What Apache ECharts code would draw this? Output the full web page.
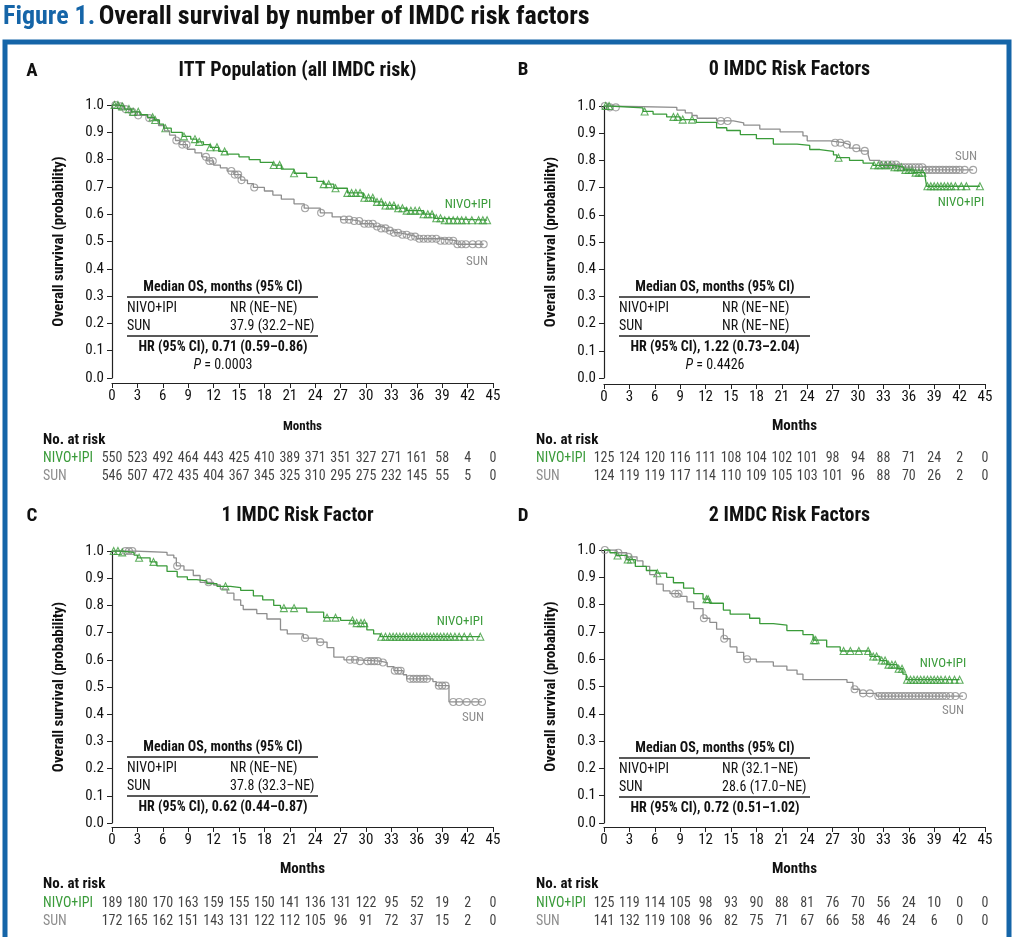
<!DOCTYPE html>
<html>
<head>
<meta charset="utf-8">
<script src="https://cdn.jsdelivr.net/npm/echarts@6/dist/echarts.min.js"></script>
<style>
  html, body { margin: 0; padding: 0; background: #fff; }
  #main { width: 1014px; height: 937px; }
</style>
</head>
<body>
<div id="main"></div>
<script>
// ---- data ----
var riskMonths = [0, 3, 6, 9, 12, 15, 18, 21, 24, 27, 30, 33, 36, 39, 42, 45];

// Panel A: ITT population
var nivoA = [[0,1],[0.8,0.995],[1.5,0.985],[2.3,0.975],[3.3,0.965],[4.2,0.955],[5,0.945],[5.6,0.93],[6.1,0.915],[7,0.9],[8.3,0.885],[9.3,0.875],[10,0.865],[10.8,0.855],[11.6,0.845],[12.6,0.83],[13.6,0.82],[15,0.81],[16.2,0.8],[17.5,0.79],[19,0.78],[20,0.765],[21.5,0.75],[23,0.735],[24.2,0.72],[25,0.71],[26.2,0.695],[27.8,0.678],[29.7,0.66],[30.9,0.645],[32,0.632],[33.5,0.622],[34.8,0.613],[36.8,0.6],[38,0.585],[39,0.578],[44.3,0.578]];
var sunA = [[0,1],[0.7,0.995],[1.4,0.985],[2.2,0.975],[3,0.962],[4.2,0.952],[4.9,0.945],[5.5,0.925],[6.2,0.905],[6.8,0.89],[7.5,0.87],[8,0.855],[8.9,0.838],[9.8,0.825],[10.6,0.81],[11.2,0.795],[12,0.78],[12.8,0.77],[13.6,0.758],[14.4,0.745],[15.2,0.725],[16,0.712],[16.7,0.698],[18,0.685],[19,0.67],[20,0.655],[21.5,0.638],[22.7,0.622],[24.6,0.605],[26,0.59],[27,0.58],[28.2,0.575],[29.3,0.565],[30.9,0.555],[31.8,0.548],[32.5,0.54],[33.3,0.532],[34,0.525],[35,0.518],[36,0.51],[38.8,0.503],[40.7,0.49],[43.9,0.49]];
var nivoCensA = [0.3,0.7,1.2,2,2.5,3.1,4.8,5.1,6.3,8.5,9.8,10.3,11.6,12.4,13.3,19.1,19.8,21.5,25,25.6,26.4,27.8,28.3,28.8,29.3,29.8,30.3,30.8,31.3,31.8,32.3,32.8,33.3,33.8,34.3,34.8,35.3,35.8,36.3,36.8,37.3,37.8,38.3,38.8,39.3,39.8,40.3,40.8,41.3,41.8,42.5,43.3,43.8,44.3];
var sunCensA = [0.4,1,1.6,2.4,3.1,4.4,7.6,8.3,8.8,11.1,11.5,11.9,14.1,14.5,14.9,15.3,16.8,22.8,24.7,27.4,28,28.6,29.2,29.8,30.3,30.8,31.3,31.8,32.3,32.8,33.3,33.8,34.3,34.8,35.3,35.8,36.3,36.8,37.3,37.8,38.3,38.8,39.3,39.8,40.3,40.8,41.3,41.8,42.6,43.3,43.9];
var riskNivoA = [550,523,492,464,443,425,410,389,371,351,327,271,161,58,4,0];
var riskSunA = [546,507,472,435,404,367,345,325,310,295,275,232,145,55,5,0];

// Panel B: 0 IMDC risk factors
var nivoB = [[0,1],[0.7,0.993],[4.6,0.98],[5.8,0.97],[7.4,0.96],[9,0.95],[10.9,0.94],[13.3,0.92],[14.5,0.91],[16.1,0.895],[18,0.88],[20,0.86],[22.8,0.855],[24.3,0.84],[25.5,0.833],[27.1,0.82],[27.5,0.81],[29,0.8],[30.6,0.79],[31.8,0.782],[34.2,0.775],[35.4,0.765],[36.5,0.755],[37.9,0.745],[38.1,0.705],[44.4,0.705]];
var sunB = [[0,1],[0.6,0.995],[8.6,0.985],[9.6,0.975],[10.4,0.965],[11,0.955],[13.3,0.945],[15.3,0.938],[16.5,0.93],[18.4,0.915],[20.8,0.905],[23.5,0.89],[24,0.872],[26.7,0.865],[28.3,0.858],[29,0.845],[30.2,0.835],[31.2,0.82],[31.4,0.8],[32.6,0.785],[35,0.775],[38,0.765],[43.6,0.765]];
var nivoCensB = [0.2,0.6,4.8,8.2,8.7,9.3,10.4,27.7,31.9,32.4,32.8,33.3,33.8,34.3,34.7,35.1,35.6,36,36.4,36.8,37.2,37.6,38.2,38.6,39,39.4,39.8,40.2,40.6,41,41.5,42.2,42.8,44.4];
var sunCensB = [0.1,0.7,1.4,13.8,14.6,27.3,27.9,28.7,29.8,30.8,33,33.5,34,34.5,35.2,35.6,36,36.4,36.8,37.2,37.6,38,38.4,38.8,39.2,39.6,40,40.4,40.8,41.2,41.6,42,42.6,43.6];
var riskNivoB = [125,124,120,116,111,108,104,102,101,98,94,88,71,24,2,0];
var riskSunB = [124,119,119,117,114,110,109,105,103,101,96,88,70,26,2,0];

// Panel C: 1 IMDC risk factor
var nivoC = [[0,1],[1,0.995],[2.6,0.985],[3,0.975],[4.5,0.96],[5.3,0.945],[6.5,0.925],[7.7,0.905],[8.9,0.895],[10,0.89],[11.2,0.88],[12.4,0.87],[14,0.865],[15.2,0.855],[16.7,0.835],[17.8,0.82],[19.1,0.8],[19.9,0.79],[23,0.775],[25,0.755],[27,0.745],[28.5,0.735],[30.1,0.71],[30.9,0.695],[31.7,0.685],[43.5,0.685]];
var sunC = [[0,1],[2.6,0.995],[6.5,0.985],[7.3,0.975],[7.6,0.945],[8.5,0.93],[9.6,0.91],[10.4,0.885],[12,0.875],[12.8,0.86],[13.6,0.845],[14.4,0.82],[15.2,0.8],[15.5,0.785],[17.1,0.77],[18.3,0.75],[19.9,0.71],[20.7,0.695],[22.6,0.68],[24.2,0.665],[25.4,0.645],[26.2,0.61],[27.4,0.6],[28.9,0.595],[31.7,0.59],[32.5,0.575],[33.3,0.56],[34.4,0.545],[34.8,0.53],[37.9,0.52],[38.3,0.505],[39.8,0.445],[43.7,0.445]];
var nivoCensC = [0.2,0.7,1.2,3.2,4.9,13.4,20.3,21.5,25.4,26.4,28.4,28.9,29.4,29.8,31.8,32.3,32.8,33.2,33.6,34,34.4,34.8,35.2,35.6,36,36.4,36.8,37.2,37.6,38,38.4,38.8,39.2,39.6,40,40.5,41,41.6,42.3,43.5];
var sunCensC = [1.6,2,2.4,7.7,11.4,22.8,24.6,28.1,28.7,29.3,30.2,30.6,31,31.4,32,33.4,33.8,34.1,35.2,35.6,36,36.4,36.8,37.2,38.6,39,39.4,40.3,41,41.9,42.9,43.7];
var riskNivoC = [189,180,170,163,159,155,150,141,136,131,122,95,52,19,2,0];
var riskSunC = [172,165,162,151,143,131,122,112,105,96,91,72,37,15,2,0];

// Panel D: 2 IMDC risk factors
var nivoD = [[0,1],[0.7,0.99],[1.5,0.98],[2.7,0.965],[3.7,0.94],[5,0.925],[6.2,0.915],[7.4,0.9],[8.2,0.88],[9.4,0.86],[10.6,0.84],[11.7,0.82],[12.5,0.805],[14.1,0.78],[14.9,0.765],[17.2,0.75],[18.4,0.73],[20,0.725],[21.6,0.705],[23.5,0.69],[24.7,0.67],[26.3,0.645],[27.9,0.63],[31.4,0.61],[32.6,0.595],[33.4,0.58],[34.6,0.565],[35.3,0.545],[35.7,0.525],[42,0.525]];
var sunD = [[0,1],[1.5,0.99],[2.7,0.975],[3.9,0.96],[4.6,0.94],[5.4,0.91],[6.2,0.875],[7,0.85],[7.8,0.84],[9,0.83],[9.8,0.81],[10.6,0.785],[11.7,0.75],[12.5,0.735],[13.3,0.71],[14.1,0.675],[14.9,0.645],[15.7,0.625],[16.5,0.6],[18,0.59],[20,0.575],[21.6,0.56],[22.8,0.545],[23.5,0.525],[28.7,0.515],[29.4,0.49],[30.2,0.475],[32.2,0.465],[42.4,0.465]];
var nivoCensD = [1.6,2.8,3.2,6.3,12.1,12.3,24.8,25,28.3,29.1,30.1,31.2,31.8,32.2,32.8,33.2,33.6,34,34.4,34.8,35.2,35.8,36.2,36.6,37,37.4,37.8,38.2,38.6,39,39.4,39.8,40.3,40.8,41.4,42];
var sunCensD = [0.1,1.7,2.9,8.4,8.8,11.8,14.2,16.9,29.6,30.6,31.4,32.4,32.8,33.2,33.6,34,34.4,34.8,35.2,35.6,36,36.4,36.8,37.2,37.6,38,38.4,38.8,39.2,39.6,40,40.4,40.9,41.5,42.4];
var riskNivoD = [125,119,114,105,98,93,90,88,81,76,70,56,24,10,0,0];
var riskSunD = [141,132,119,108,96,82,75,71,67,66,58,46,24,6,0,0];

var titles = ['ITT Population (all IMDC risk)', '0 IMDC Risk Factors', '1 IMDC Risk Factor', '2 IMDC Risk Factors'];
var letters = ['A', 'B', 'C', 'D'];
var medNivo = ['NR (NE\u2013NE)', 'NR (NE\u2013NE)', 'NR (NE\u2013NE)', 'NR (32.1\u2013NE)'];
var medSun = ['37.9 (32.2\u2013NE)', 'NR (NE\u2013NE)', '37.8 (32.3\u2013NE)', '28.6 (17.0\u2013NE)'];
var hrText = ['HR (95% CI), 0.71 (0.59\u20130.86)', 'HR (95% CI), 1.22 (0.73\u20132.04)', 'HR (95% CI), 0.62 (0.44\u20130.87)', 'HR (95% CI), 0.72 (0.51\u20131.02)'];
var pText = ['0.0003', '0.4426', null, null];

// ---- layout ----
var FONT = "'Liberation Sans Narrow','Arial Narrow','Roboto Condensed',sans-serif";
var GREEN = '#3a9b3a';
var GRAY = '#8e8e8e';
var BLUE = '#1565a8';
var INK = '#111';

var layout = [
    { left: 112, top: 105, height: 273, riskTop: 450, riskH: 35, xOff: 5, titleY: 71, letterX: 32, labelX: 43, tableY: 287, monthsSize: 13,
      nivoLbl: [468, 205], sunLbl: [477, 262] },
    { left: 604, top: 106, height: 272, riskTop: 450, riskH: 35, xOff: 6, titleY: 70, letterX: 523, labelX: 536, tableY: 287, monthsSize: 15,
      nivoLbl: [961, 203], sunLbl: [966, 157] },
    { left: 112, top: 551, height: 272, riskTop: 894, riskH: 36, xOff: 4, titleY: 516, letterX: 32, labelX: 43, tableY: 747, monthsSize: 15,
      nivoLbl: [460, 622], sunLbl: [473, 718] },
    { left: 604, top: 550, height: 273, riskTop: 894, riskH: 36, xOff: 4, titleY: 516, letterX: 523, labelX: 536, tableY: 748, monthsSize: 15,
      nivoLbl: [943, 664], sunLbl: [953, 711] }
];
var plotW = 381;

var nivoSteps = [nivoA, nivoB, nivoC, nivoD];
var sunSteps = [sunA, sunB, sunC, sunD];
var nivoCens = [nivoCensA, nivoCensB, nivoCensC, nivoCensD];
var sunCens = [sunCensA, sunCensB, sunCensC, sunCensD];
var riskNivo = [riskNivoA, riskNivoB, riskNivoC, riskNivoD];
var riskSun = [riskSunA, riskSunB, riskSunC, riskSunD];

// place censor ticks on the KM step they belong to
function onCurve(steps, times) {
    return times.map(function (t) {
        var s = steps[0][1];
        for (var i = 0; i < steps.length; i++) {
            if (steps[i][0] <= t) s = steps[i][1];
        }
        return [t, s];
    });
}

var chartDom = document.getElementById('main');
var myChart = echarts.init(chartDom);

var grid = [], xAxis = [], yAxis = [], series = [];
var graphic = [
    { type: 'rect', shape: { x: 5, y: 42, width: 1004, height: 920 },
      style: { fill: 'none', stroke: BLUE, lineWidth: 5 } },
    { type: 'text', style: { x: 3, y: 17, textVerticalAlign: 'middle',
        text: '{b|Figure 1.} {k|Overall survival by number of IMDC risk factors}',
        rich: {
            b: { fontFamily: FONT, fontWeight: 'bold', fontSize: 26, fill: BLUE },
            k: { fontFamily: FONT, fontWeight: 'bold', fontSize: 26, fill: INK }
        } } }
];

function txt(x, y, text, opt) {
    opt = opt || {};
    return { type: 'text', style: {
        x: x, y: y, text: text, textAlign: opt.align || 'left', textVerticalAlign: 'middle',
        font: (opt.bold ? 'bold ' : '') + (opt.size || 14) + 'px ' + FONT,
        fill: opt.color || INK
    } };
}
function hline(x1, x2, y) {
    return { type: 'line', shape: { x1: x1, y1: y, x2: x2, y2: y }, style: { stroke: '#222', lineWidth: 1.3 } };
}

layout.forEach(function (L, i) {
    var gi = i * 2;
    grid.push({ left: L.left, top: L.top, width: plotW, height: L.height });
    grid.push({ left: L.left, top: L.riskTop, width: plotW, height: L.riskH });

    xAxis.push({
        gridIndex: gi, type: 'value', min: 0, max: 45, interval: 3, offset: L.xOff,
        name: 'Months', nameLocation: 'middle', nameGap: L.monthsSize === 13 ? 37 : 35,
        nameTextStyle: { fontFamily: FONT, fontWeight: 'bold', fontSize: L.monthsSize, color: INK },
        axisLine: { show: true, onZero: false, lineStyle: { color: '#222', width: 1.2 } },
        axisTick: { show: true, length: 5, lineStyle: { color: '#222' } },
        axisLabel: { fontFamily: FONT, fontSize: 15, color: INK, margin: 6 },
        splitLine: { show: false }
    });
    xAxis.push({
        gridIndex: gi + 1, type: 'value', min: 0, max: 45, interval: 3, show: false
    });

    yAxis.push({
        gridIndex: gi, type: 'value', min: 0, max: 1, interval: 0.1, offset: 1,
        name: 'Overall survival (probability)', nameLocation: 'middle', nameGap: 44, nameRotate: 90,
        nameTextStyle: { fontFamily: FONT, fontWeight: 'bold', fontSize: 15, color: INK },
        axisLine: { show: true, lineStyle: { color: '#222', width: 1.2 } },
        axisTick: { show: true, length: 5, lineStyle: { color: '#222' } },
        axisLabel: { fontFamily: FONT, fontSize: 15, color: INK, margin: 7,
            formatter: function (v) { return v.toFixed(1); } },
        splitLine: { show: false }
    });
    yAxis.push({
        gridIndex: gi + 1, type: 'category', data: ['NIVO+IPI', 'SUN'], inverse: true,
        axisLine: { show: false }, axisTick: { show: false }, splitLine: { show: false },
        axisLabel: {
            interval: 0, hideOverlap: false,
            align: 'left', margin: L.left - L.labelX, fontFamily: FONT, fontSize: 14,
            formatter: function (v) { return v === 'SUN' ? '{s|SUN}' : '{g|NIVO+IPI}'; },
            rich: {
                g: { color: GREEN, fontFamily: FONT, fontSize: 14 },
                s: { color: GRAY, fontFamily: FONT, fontSize: 14 }
            }
        }
    });

    var lineBase = { type: 'line', step: 'end', showSymbol: false, xAxisIndex: gi, yAxisIndex: gi, animation: false, silent: true };
    series.push(Object.assign({}, lineBase, { name: 'SUN', data: sunSteps[i], lineStyle: { color: GRAY, width: 1.3 }, itemStyle: { color: GRAY } }));
    series.push(Object.assign({}, lineBase, { name: 'NIVO+IPI', data: nivoSteps[i], lineStyle: { color: GREEN, width: 1.3 }, itemStyle: { color: GREEN } }));
    series.push({
        type: 'scatter', xAxisIndex: gi, yAxisIndex: gi, animation: false, silent: true,
        symbol: 'circle', symbolSize: 7, data: onCurve(sunSteps[i], sunCens[i]),
        itemStyle: { color: 'rgba(255,255,255,0)', borderColor: GRAY, borderWidth: 1.1 }
    });
    series.push({
        type: 'scatter', xAxisIndex: gi, yAxisIndex: gi, animation: false, silent: true,
        symbol: 'triangle', symbolSize: 7, data: onCurve(nivoSteps[i], nivoCens[i]),
        itemStyle: { color: 'rgba(255,255,255,0)', borderColor: GREEN, borderWidth: 1.1 }
    });

    var riskData = [];
    riskMonths.forEach(function (m, k) {
        riskData.push([m, 'NIVO+IPI', riskNivo[i][k]]);
        riskData.push([m, 'SUN', riskSun[i][k]]);
    });
    series.push({
        type: 'scatter', xAxisIndex: gi + 1, yAxisIndex: gi + 1, animation: false, silent: true,
        symbolSize: 0, data: riskData,
        label: { show: true, position: 'inside', fontFamily: FONT, fontSize: 14, color: INK,
            formatter: function (p) { return String(p.value[2]); } }
    });

    // panel heading
    graphic.push(txt(L.letterX, L.titleY, letters[i], { bold: true, size: 19, align: 'center' }));
    graphic.push(txt(L.left + plotW / 2 - 5, L.titleY, titles[i], { bold: true, size: 20, align: 'center' }));
    // curve labels
    graphic.push(txt(L.nivoLbl[0], L.nivoLbl[1], 'NIVO+IPI', { size: 13, align: 'center', color: GREEN }));
    graphic.push(txt(L.sunLbl[0], L.sunLbl[1], 'SUN', { size: 13, align: 'center', color: GRAY }));
    // at-risk heading
    graphic.push(txt(L.labelX, L.riskTop - 10, 'No. at risk', { bold: true, size: 15 }));

    // median OS table
    var tx = L.left + 15, tc = L.left + 111, tv = L.left + 118, ty = L.tableY;
    graphic.push(txt(tc, ty, 'Median OS, months (95% CI)', { bold: true, size: 14, align: 'center' }));
    graphic.push(hline(tx, L.left + 206, ty + 10));
    graphic.push(txt(tx, ty + 21, 'NIVO+IPI', { size: 14 }));
    graphic.push(txt(tv, ty + 21, medNivo[i], { size: 14 }));
    graphic.push(txt(tx, ty + 39, 'SUN', { size: 14 }));
    graphic.push(txt(tv, ty + 39, medSun[i], { size: 14 }));
    graphic.push(hline(tx, L.left + 206, ty + 49));
    graphic.push(txt(tc, ty + 60, hrText[i], { bold: true, size: 14, align: 'center' }));
    if (pText[i]) {
        graphic.push({ type: 'text', style: {
            x: tc, y: ty + 78, textAlign: 'center', textVerticalAlign: 'middle',
            text: '{i|P} = ' + pText[i], font: '14px ' + FONT, fill: INK,
            rich: { i: { fontStyle: 'italic', fontFamily: FONT, fontSize: 14, fill: INK } }
        } });
    }
});

var option = {
    backgroundColor: '#fff',
    animation: false,
    grid: grid,
    xAxis: xAxis,
    yAxis: yAxis,
    series: series,
    graphic: graphic
};

myChart.setOption(option);
</script>
</body>
</html>
